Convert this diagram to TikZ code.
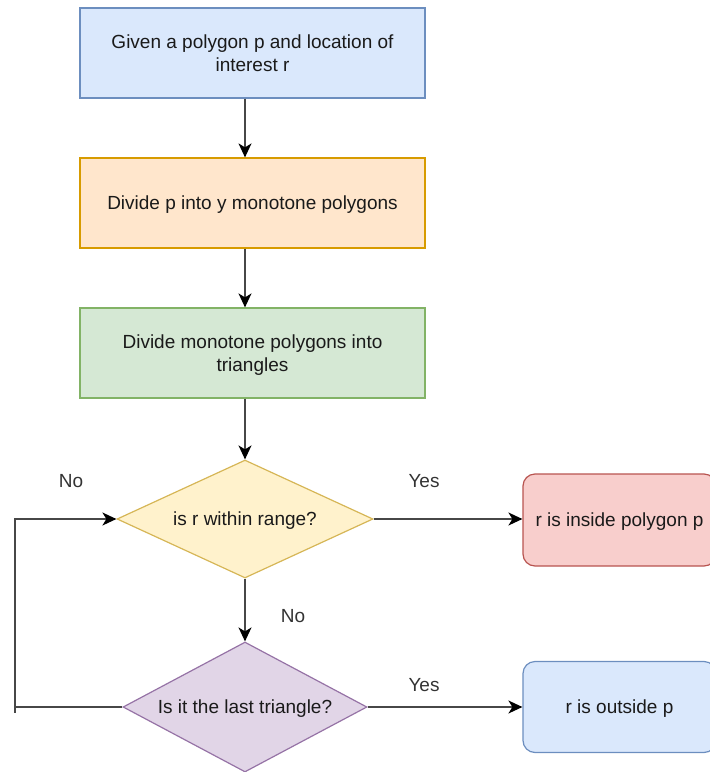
\documentclass[tikz,border=0pt]{standalone}
\usepackage{fontspec}
\setmainfont{Liberation Sans}
\usetikzlibrary{shapes.geometric,arrows.meta}
\definecolor{blueF}{HTML}{DAE8FC}\definecolor{blueD}{HTML}{6C8EBF}
\definecolor{orangeF}{HTML}{FFE6CC}\definecolor{orangeD}{HTML}{D79B00}
\definecolor{greenF}{HTML}{D5E8D4}\definecolor{greenD}{HTML}{82B366}
\definecolor{yellowF}{HTML}{FFF2CC}\definecolor{yellowD}{HTML}{D6B656}
\definecolor{redF}{HTML}{F8CECC}\definecolor{redD}{HTML}{B85450}
\definecolor{purpleF}{HTML}{E1D5E7}\definecolor{purpleD}{HTML}{9673A6}
\definecolor{txt}{HTML}{1A1A1A}
\definecolor{lbl}{HTML}{333333}
\tikzset{
  every node/.style={font=\fontsize{19}{23.5}\selectfont, text=txt},
  procbox/.style={rectangle, draw, line width=1.2pt, minimum width=345pt, minimum height=90pt, align=center, inner sep=0pt, text depth=0pt},
  endbox/.style={rectangle, rounded corners=12pt, draw, line width=1.2pt, minimum width=193pt, minimum height=92pt, align=center, inner sep=0pt, text depth=0pt},
  decide/.style={diamond, draw, line width=1.2pt, inner sep=0pt, aspect=2, text depth=0pt},
  conn/.style={draw=black!72, line width=1.6pt},
  arr/.style={conn, -{Stealth[length=14pt,width=13pt,inset=4pt,color=black]}},
  lab/.style={text=lbl},
}
\begin{document}
\begin{tikzpicture}[x=1pt,y=-1pt]
\useasboundingbox (0,0) rectangle (710,772);
\clip (0,0) rectangle (710,772);
\node[procbox, fill=blueF, draw=blueD] (b1) at (252.5,53) {Given a polygon p and location of\\interest r};
\node[procbox, fill=orangeF, draw=orangeD] (b2) at (252.5,203) {Divide p into y monotone polygons};
\node[procbox, fill=greenF, draw=greenD] (b3) at (252.5,353) {Divide monotone polygons into\\triangles};
\node[decide, fill=yellowF, draw=yellowD, minimum width=256pt, minimum height=118pt] (d1) at (245,519) {is r within range?};
\node[decide, fill=purpleF, draw=purpleD, minimum width=244pt, minimum height=130pt] (d2) at (245,707) {Is it the last triangle?};
\node[endbox, fill=redF, draw=redD] (r1) at (619.5,520) {r is inside polygon p};
\node[endbox, fill=blueF, draw=blueD, minimum height=91pt] (r2) at (619.5,707) {r is outside p};
\coordinate (lt) at (15,519);
\coordinate (lb) at (15,707);
\draw[arr] (d1.north |- b1.south) -- (d1.north |- b2.north);
\draw[arr] (d1.north |- b2.south) -- (d1.north |- b3.north);
\draw[arr] (d1.north |- b3.south) -- (d1.north);
\draw[arr] (d1.south) -- (d2.north);
\draw[arr] (d1.east) -- (r1.west |- d1.east);
\draw[arr] (d2.east) -- (r2.west |- d2.east);
\draw[arr] (d2.west) -- (lb) -- (lt) -- (d1.west);
\draw[conn] (lb) -- ++(0,6);
\node[lab] (n1) at (71,481) {No};
\node[lab] (y1) at (424,481) {Yes};
\node[lab] (n2) at (293,616) {No};
\node[lab] (y2) at (424,685) {Yes};
\end{tikzpicture}
\end{document}
